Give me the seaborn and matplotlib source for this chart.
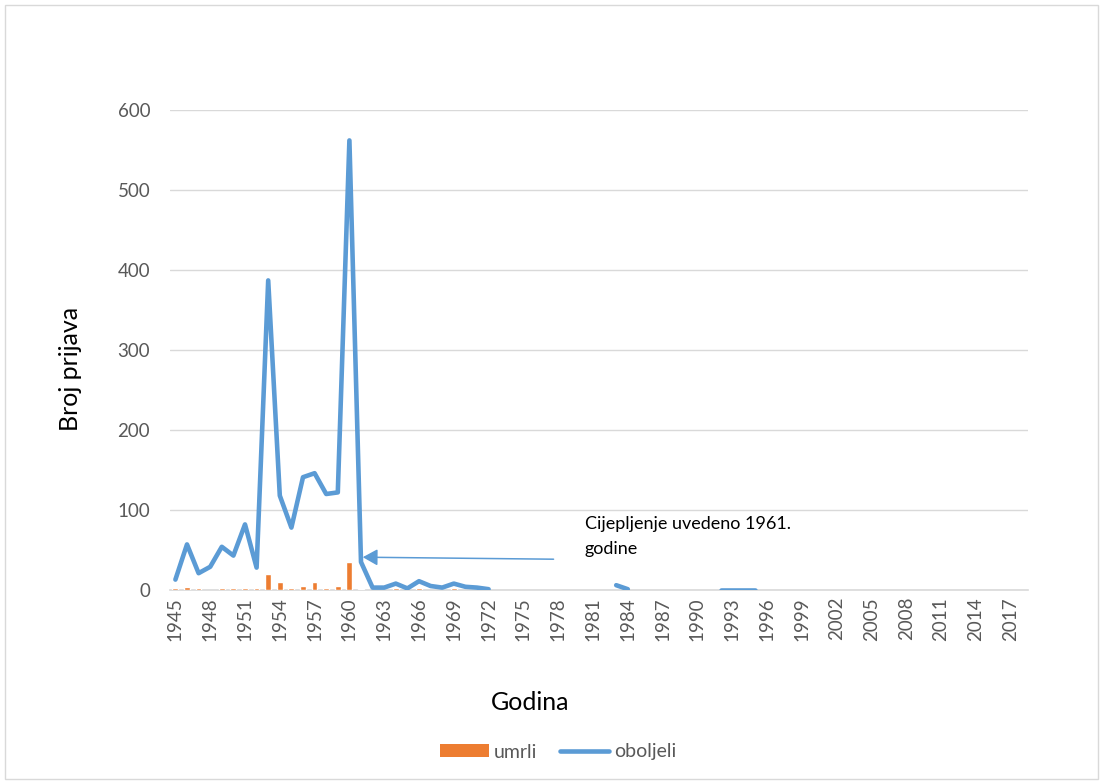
import numpy as np
import pandas as pd
import matplotlib
matplotlib.use("Agg")
import matplotlib.pyplot as plt
import seaborn as sns
from matplotlib.patches import Patch, Rectangle
from matplotlib.lines import Line2D

# ---------------- data ----------------
years = list(range(1945, 2019))

oboljeli = [13, 57, 21, 29, 54, 43, 82, 28, 387, 118,
            78, 141, 146, 120, 122, 562, 35, 3, 3, 8,
            2, 11, 5, 3, 8, 4, 3, 1,
            None, None, None, None, None, None, None, None, None, None,   # 1973-1982
            6, 1,                                                         # 1983-1984
            None, None, None, None, None, None, None,                     # 1985-1991
            0, 0, 0, 0,                                                   # 1992-1995
            None, None, None, None, None, None, None, None, None, None,
            None, None, None, None, None, None, None, None, None, None,
            None, None, None]                                             # 1996-2018

umrli = [2, 4, 2, 0, 3, 2, 3, 2, 20, 10,
         2, 5, 10, 3, 5, 35, 1, 0, 0, 2,
         0, 2, 0, 0, 2, 0]                                                # 1945-1970

series_names = ["umrli", "oboljeli"]
x_title = "Godina"
y_title = "Broj prijava"
note_text = "Cijepljenje uvedeno 1961.\ngodine"
y_ticks = [0, 100, 200, 300, 400, 500, 600]
x_ticks = list(range(1945, 2018, 3))

BLUE = "#5B9BD5"
ORANGE = "#ED7D31"
GRID = "#D9D9D9"
TXT = "#595959"

# ---------------- frames ----------------
line_df = pd.DataFrame({"year": years, "val": oboljeli}).astype({"val": float})
line_df["seg"] = line_df["val"].isna().cumsum()
line_df = line_df.dropna()

bar_df = pd.DataFrame({"year": years[:len(umrli)], "val": umrli})
bar_df = bar_df[bar_df["val"] > 0]

# ---------------- figure ----------------
sns.set_theme(style="white")
plt.rcParams["font.family"] = ["Lato", "DejaVu Sans"]

W, H = 1104, 784
fig = plt.figure(figsize=(W / 100, H / 100), dpi=100)
left_px, right_px, top_px, bottom_px = 169.6, 1028, 110, 590
ax = fig.add_axes([left_px / W, 1 - bottom_px / H,
                   (right_px - left_px) / W, (bottom_px - top_px) / H])

sns.barplot(data=bar_df, x="year", y="val", native_scale=True, width=0.5,
            color=ORANGE, saturation=1, errorbar=None, ax=ax, zorder=2)
sns.lineplot(data=line_df, x="year", y="val", units="seg", estimator=None,
             color=BLUE, linewidth=3.3, ax=ax, legend=False, zorder=3,
             solid_capstyle="round", solid_joinstyle="round")

ax.set_xlim(1944.5, 2018.5)
ax.set_ylim(0, 600)
ax.set_yticks(y_ticks)
ax.set_xticks(x_ticks)
ax.set_xticklabels([str(t) for t in x_ticks], rotation=90)

ax.yaxis.grid(True, color=GRID, linewidth=1)
ax.xaxis.grid(False)
ax.set_axisbelow(True)
for s in ["top", "right", "left"]:
    ax.spines[s].set_visible(False)
ax.spines["bottom"].set_color(GRID)
ax.spines["bottom"].set_linewidth(1.2)
ax.spines["bottom"].set_zorder(1)

ax.tick_params(axis="both", length=0, labelcolor=TXT, labelsize=13.5)
ax.tick_params(axis="x", pad=5)
ax.tick_params(axis="y", pad=14)

ax.set_xlabel(x_title, fontsize=18, color="black")
ax.set_ylabel(y_title, fontsize=18, color="black")
ax.xaxis.set_label_coords((530 - left_px) / (right_px - left_px),
                          (bottom_px - 691) / (bottom_px - top_px))
ax.yaxis.set_label_coords((82 - left_px) / (right_px - left_px),
                          (bottom_px - 369) / (bottom_px - top_px))

# annotation arrow + text
ax.annotate("", xy=(1961.15, 41), xytext=(1977.6, 38.5),
            arrowprops=dict(arrowstyle="-|>,head_length=0.45,head_width=0.25",
                            mutation_scale=20, color=BLUE, lw=1.1,
                            shrinkA=0, shrinkB=0), zorder=4)
ax.text(1980.3, 67, note_text, fontsize=13, color="black",
        ha="left", va="center", linespacing=1.7)

# legend
handles = [Patch(facecolor=ORANGE, edgecolor="none"),
           Line2D([0], [0], color=BLUE, linewidth=3.3, solid_capstyle="round")]
fig.legend(handles, series_names, loc="center", bbox_to_anchor=(558 / W, 1 - 752 / H),
           ncol=2, frameon=False, fontsize=14, handlelength=2.5, handleheight=0.6,
           handletextpad=0.25, columnspacing=1.2, labelcolor=TXT)

# chart border
fig.add_artist(Rectangle((5 / W, 5 / H), 1 - 11 / W, 1 - 10 / H,
                         transform=fig.transFigure, fill=False,
                         edgecolor=GRID, linewidth=1))

fig.savefig("out.png", dpi=100)
